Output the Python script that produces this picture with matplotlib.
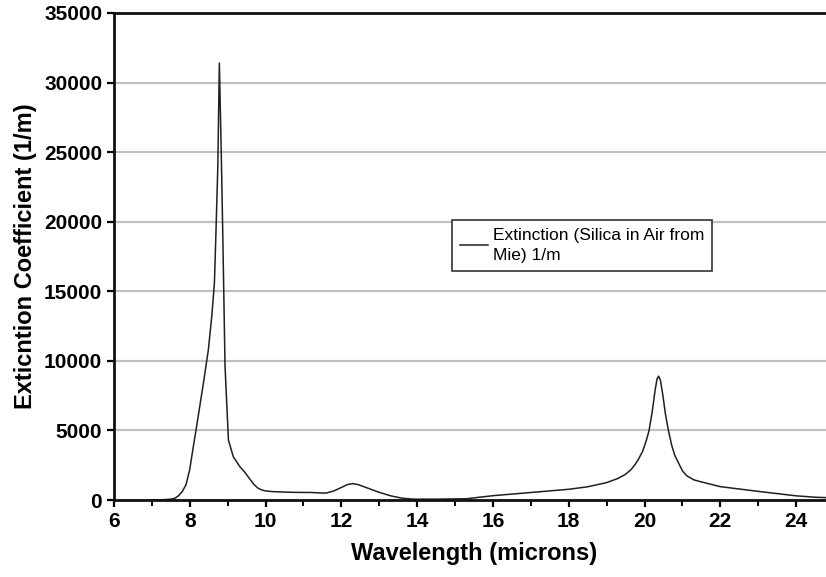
import matplotlib
matplotlib.use("Agg")
import matplotlib.pyplot as plt
import matplotlib.ticker as ticker

# wavelength (microns) and extinction coefficient (1/m)
wavelength = [7.0, 7.3, 7.5, 7.6, 7.7, 7.8, 7.9, 8.0, 8.05, 8.18, 8.36,
              8.49, 8.58, 8.65, 8.69, 8.74, 8.78, 8.83, 8.87, 8.93, 9.02,
              9.15, 9.32, 9.45, 9.6, 9.7, 9.8, 9.9, 10.0, 10.2, 10.73,
              11.2, 11.5, 11.6, 11.8, 12.0, 12.15, 12.3, 12.45, 12.7, 13.0,
              13.3, 13.6, 13.9, 14.5, 15.3, 16.0, 17.0, 18.0, 18.5, 19.0,
              19.3, 19.5, 19.65, 19.75, 19.83, 19.95, 20.05, 20.12, 20.2,
              20.28, 20.33, 20.37, 20.42, 20.48, 20.55, 20.63, 20.72, 20.8,
              20.89, 21.0, 21.11, 21.3, 21.5, 22.0, 23.0, 24.0, 24.5, 25.0]
extinction = [0, 20, 60, 120, 300, 600, 1100, 2200, 3100, 5300, 8400,
              10800, 13200, 15600, 19200, 24000, 31400, 25000, 19200, 9600, 4300,
              3100, 2400, 2000, 1450, 1100, 850, 720, 650, 600, 550,
              540, 500, 500, 650, 900, 1100, 1180, 1100, 850, 550,
              300, 130, 60, 60, 90, 310, 540, 770, 950, 1250,
              1550, 1850, 2200, 2550, 2880, 3500, 4300, 5000, 6300,
              7900, 8700, 8900, 8600, 7600, 6200, 5000, 3900, 3200,
              2700, 2100, 1750, 1450, 1300, 960, 620, 300, 200, 150]
series_label = "Extinction (Silica in Air from\nMie) 1/m"

plt.rcParams['font.family'] = ['Liberation Sans', 'DejaVu Sans']

fig = plt.figure(figsize=(8.26, 5.77), dpi=100)
ax = fig.add_axes([114 / 826, 77 / 577, 720 / 826, 487 / 577])

ax.plot(wavelength, extinction, color="#202020", lw=1.1, label=series_label)

ax.set_xlim(6, 25)
ax.set_ylim(0, 35000)
ax.xaxis.set_major_locator(ticker.MultipleLocator(2))
ax.xaxis.set_minor_locator(ticker.MultipleLocator(1))
ax.yaxis.set_major_locator(ticker.MultipleLocator(5000))

ax.yaxis.grid(True, color="#c0c0c0", lw=1.6)
ax.set_axisbelow(True)

for side in ['left', 'bottom', 'top']:
    ax.spines[side].set_linewidth(2)
    ax.spines[side].set_color("#111111")
ax.spines['right'].set_visible(False)

ax.tick_params(axis='both', which='major', direction='out', length=5, width=1.6,
               labelsize=15)
ax.tick_params(axis='x', which='minor', direction='out', length=4, width=1.4)
for lab in ax.get_xticklabels() + ax.get_yticklabels():
    lab.set_fontweight('bold')

ax.set_xlabel("Wavelength (microns)", fontsize=17, fontweight='bold', labelpad=8)
ax.set_ylabel("Exticntion Coefficient (1/m)", fontsize=17, fontweight='bold', labelpad=5)

leg = ax.legend(loc='upper left', bbox_to_anchor=(452 / 826, 357 / 577),
                bbox_transform=fig.transFigure, fontsize=12.5, frameon=True,
                fancybox=False, borderpad=0.45, borderaxespad=0, handlelength=1.6,
                handletextpad=0.3, labelspacing=0.1)
leg.get_texts()[0].set_linespacing(1.45)
leg.get_frame().set_edgecolor("#333333")
leg.get_frame().set_linewidth(1.2)
leg.get_frame().set_alpha(1)

fig.savefig("out.png", dpi=100)
